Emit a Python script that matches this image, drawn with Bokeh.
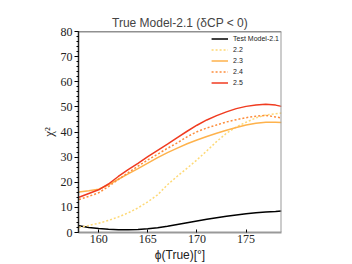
from bokeh.plotting import figure
from bokeh.models import Range1d, Legend, LegendItem, FixedTicker
from bokeh.embed import file_html
from bokeh.resources import INLINE

phi = [158, 159, 160, 161, 162, 163, 164, 165, 166, 167, 168, 169, 170,
       171, 172, 173, 174, 175, 176, 177, 178, 178.6]
m21 = [2.7, 2.0, 1.6, 1.3, 1.1, 1.1, 1.2, 1.5, 1.9, 2.5, 3.2, 3.9, 4.6,
       5.3, 5.9, 6.5, 7.0, 7.5, 7.9, 8.2, 8.4, 8.6]
m22 = [2.0, 2.8, 3.7, 4.8, 6.2, 7.8, 9.8, 12.2, 15.0, 19.0, 22.4, 25.6, 28.9,
       32.5, 36.2, 39.5, 42.0, 43.9, 45.6, 46.8, 47.3, 47.6]
m23 = [16.1, 16.6, 17.2, 19.0, 21.2, 23.3, 25.4, 27.6, 29.8, 31.8, 33.6, 35.3, 36.8,
       38.2, 39.5, 40.7, 41.8, 42.8, 43.5, 43.9, 43.9, 43.8]
m24 = [13.1, 14.4, 15.8, 18.3, 21.1, 23.8, 26.4, 28.9, 31.2, 33.5, 35.7, 38.1, 40.1,
       41.6, 42.8, 44.0, 44.9, 45.7, 46.3, 46.6, 46.0, 45.6]
m25 = [14.0, 15.5, 17.0, 19.3, 22.3, 25.0, 27.5, 30.2, 32.7, 35.2, 37.8, 40.3, 42.7,
       44.8, 46.5, 48.0, 49.3, 50.2, 50.7, 51.0, 50.7, 50.2]

labels = ["Test Model-2.1", "2.2", "2.3", "2.4", "2.5"]
colors = ["#000000", "#fed976", "#feb24c", "#fd8d3c", "#f03b20"]
dashes = ["solid", "2 2", "solid", "2 2", "solid"]
x_ticks = [160, 165, 170, 175]
y_ticks = [0, 10, 20, 30, 40, 50, 60, 70, 80]

W, H = 352, 264
FL, FT, FW, FH = 78, 31, 203, 204
p = figure(width=W, height=H, output_backend="svg", toolbar_location=None,
           x_range=Range1d(157.95, 178.6), y_range=Range1d(0, 80),
           min_border_left=FL, min_border_right=W - FL - FW,
           min_border_top=FT, min_border_bottom=H - FT - FH)
p.title.text = "True Model-2.1 (δCP < 0)"
p.title.align = "center"
p.title.text_font = "Liberation Sans"
p.title.text_font_style = "normal"
p.title.text_font_size = "12px"
p.title.standoff = 3

p.grid.visible = False
p.outline_line_color = None
p.background_fill_color = "white"

series = [m21, m22, m23, m24, m25]
items = []
for ys, lab, c, d in zip(series, labels, colors, dashes):
    r = p.line(phi, ys, line_color=c, line_width=1.5, line_dash=d)
    items.append(LegendItem(label=lab, renderers=[r]))

# top spine (dark)
p.line(x=[157.95, 178.6], y=[80, 80], line_color="#222222", line_width=1.5)

for ax in (p.xaxis[0], p.yaxis[0]):
    ax.major_label_text_font = "Liberation Serif"
    ax.major_label_text_font_size = "12px"
    ax.major_label_text_color = "#222222"
    ax.axis_label_text_font_style = "normal"
    ax.axis_label_text_color = "#222222"

p.xaxis.ticker = FixedTicker(ticks=x_ticks)
p.xaxis.axis_line_color = "#999999"
p.xaxis.axis_line_width = 2
p.xaxis.major_tick_in = 3
p.xaxis.major_tick_out = 0
p.xaxis.minor_tick_line_color = None
p.xaxis.major_label_standoff = 2
p.xaxis.axis_label = "ϕ(True)[°]"
p.xaxis.axis_label_text_font = "Liberation Sans"
p.xaxis.axis_label_text_font_size = "12px"
p.xaxis.axis_label_standoff = 2

p.yaxis.ticker = FixedTicker(ticks=y_ticks, minor_ticks=list(range(0, 81, 2)))
p.yaxis.axis_line_color = "#222222"
p.yaxis.axis_line_width = 1.5
p.yaxis.major_tick_in = 0
p.yaxis.major_tick_out = 4
p.yaxis.minor_tick_in = 0
p.yaxis.minor_tick_out = 2
p.yaxis.major_label_standoff = 2
p.yaxis.axis_label = "χ²"
p.yaxis.axis_label_text_font = "Liberation Serif"
p.yaxis.axis_label_text_font_size = "13px"
p.yaxis.axis_label_standoff = 2

# right gray spine
p.line(x=[178.6, 178.6], y=[0, 80], line_color="#999999", line_width=2)

legend = Legend(items=items, location="top_right")
legend.border_line_color = None
legend.background_fill_alpha = 0
legend.label_text_font = "Liberation Sans"
legend.label_text_font_size = "7px"
legend.label_text_color = "#222222"
legend.label_height = 11
legend.glyph_height = 11
legend.glyph_width = 17
legend.label_standoff = 5
legend.spacing = 0
legend.padding = 5
legend.margin = 2
p.add_layout(legend)

open("out.html", "w").write(file_html(p, INLINE))
